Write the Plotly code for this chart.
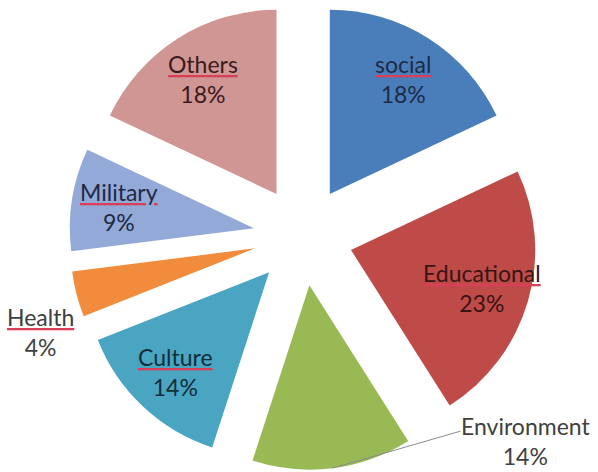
import math
import plotly.graph_objects as go

# Share of projects by field, clockwise from 12 o'clock
fields = ["social", "Educational", "Environment", "Culture", "Health", "Military", "Others"]
shares = [18, 23, 14, 14, 4, 9, 18]

slice_colors = ["#4A7EBB", "#BE4B48", "#98B954", "#4AA5C2", "#F08C3C", "#93A9D7", "#D09694"]
text_colors = ["#1C2B45", "#3A1414", "#404040", "#0F2E3A", "#404040", "#1E2A45", "#3A1A1A"]
# names drawn with a red underline
underlined = {"social", "Educational", "Culture", "Health", "Military", "Others"}

W, H = 598, 472
MARGIN = dict(l=0, r=0, t=2, b=2)
DOMAIN_X = [0.014, 1.0]
PULL = 0.27
FONT = "Lato"
FSIZE = 23
SQUIGGLE = "#D8405A"
INSIDE_POS = 0.74  # label centre, as a fraction of the radius from the slice tip


def tagged(name, color):
    if name not in underlined:
        return name
    # red underline painted by the outer span, glyphs coloured by the inner one
    return (f'<span style="text-decoration:underline;fill:{SQUIGGLE}">'
            f'<span style="fill:{color}">{name}</span></span>')


fig = go.Figure(
    go.Pie(
        labels=fields,
        values=shares,
        sort=False,
        direction="clockwise",
        rotation=0,
        pull=[PULL] * len(fields),
        marker=dict(colors=slice_colors, line=dict(width=0)),
        textinfo="none",
        showlegend=False,
        hoverinfo="skip",
        domain=dict(x=DOMAIN_X, y=[0.0, 1.0]),
    )
)

# pie geometry in pixels (same rule plotly uses to size a pulled pie)
plot_w = W - MARGIN["l"] - MARGIN["r"]
plot_h = H - MARGIN["t"] - MARGIN["b"]
dom_w = plot_w * (DOMAIN_X[1] - DOMAIN_X[0])
radius = min(dom_w, plot_h) / 2 / (1 + PULL)
cx = MARGIN["l"] + plot_w * (DOMAIN_X[0] + DOMAIN_X[1]) / 2
cy = MARGIN["t"] + plot_h / 2

total = sum(shares)
mid_angle = {}
acc = 0
for f, s in zip(fields, shares):
    mid_angle[f] = (acc + s / 2) / total * 2 * math.pi
    acc += s


def at(angle, dist):
    # pixel point at clockwise angle from 12 o'clock, dist from pie centre
    return cx + dist * math.sin(angle), cy - dist * math.cos(angle)


def to_paper(px, py):
    return (px - MARGIN["l"]) / plot_w, (H - MARGIN["b"] - py) / plot_h


def label(px, py, name, share, color):
    x, y = to_paper(px, py)
    fig.add_annotation(x=x, y=y, xref="paper", yref="paper", showarrow=False,
                       text=f"{tagged(name, color)}<br>{share}%",
                       font=dict(family=FONT, size=FSIZE, color=color),
                       xanchor="center", yanchor="middle", borderpad=0)


for f, s, c in zip(fields, shares, text_colors):
    a = mid_angle[f]
    if f == "Environment":
        # label to the lower right with a leader line from the arc
        arc_px = at(a, radius * (1 + PULL))
        end_px = (arc_px[0] + 128, arc_px[1] - 37)
        x0, y0 = to_paper(*arc_px)
        x1, y1 = to_paper(*end_px)
        fig.add_shape(type="line", xref="paper", yref="paper",
                      x0=x0, y0=y0, x1=x1, y1=y1,
                      line=dict(color="#8C8C8C", width=1))
        label(end_px[0] + 65, end_px[1] + 10, f, s, c)
    elif f == "Health":
        # label outside, left of its thin slice
        label(*at(a - 0.1, radius * 1.52), f, s, c)
    else:
        label(*at(a, radius * (PULL + INSIDE_POS)), f, s, c)

fig.update_layout(
    width=W,
    height=H,
    margin=MARGIN,
    paper_bgcolor="white",
    plot_bgcolor="white",
)

fig.write_html("out.html")
